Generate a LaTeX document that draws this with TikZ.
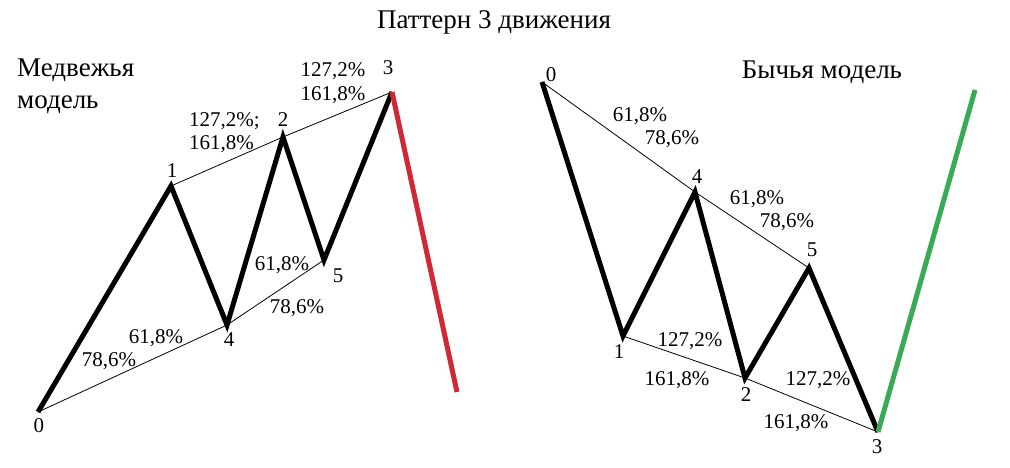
\documentclass[tikz,border=0pt]{standalone}
\usepackage{fontspec}
\setmainfont{Liberation Serif}
\definecolor{wred}{RGB}{208,40,52}
\definecolor{wgreen}{RGB}{58,170,85}
\begin{document}
\begin{tikzpicture}[x=1pt,y=-1pt,
  wave/.style={line width=5pt,line join=miter,black},
  guide/.style={line width=0.8pt,black},
  lbl/.style={inner sep=0pt,font=\fontsize{21}{25}\selectfont},
  head/.style={inner sep=0pt,font=\fontsize{27}{32}\selectfont},
  lblL/.style={lbl,anchor=west,align=left}]
\useasboundingbox (0,0) rectangle (1010,468);
% left (bearish) model
\coordinate (L0) at (38,412);
\coordinate (L1) at (171,186);
\coordinate (L4) at (227,325);
\coordinate (L2) at (283,137);
\coordinate (L5) at (324,260);
\coordinate (L3) at (392,92);
\coordinate (LE) at (457,392);
\draw[guide] (L0) -- (L4) -- (L5);
\draw[guide] (L1) -- (L2) -- (L3);
\draw[wave] (L0) -- (L1) -- (L4) -- (L2) -- (L5) -- (L3);
\draw[wave,wred] (L3) -- (LE);
% right (bullish) model
\coordinate (R0) at (542,82);
\coordinate (R1) at (623,336);
\coordinate (R4) at (695,192);
\coordinate (R2) at (745,378);
\coordinate (R5) at (809,268);
\coordinate (R3) at (878,432);
\coordinate (RE) at (975,90);
\draw[guide] (R0) -- (R4) -- (R5);
\draw[guide] (R1) -- (R2) -- (R3);
\draw[wave] (R0) -- (R1) -- (R4) -- (R2) -- (R5) -- (R3);
\draw[wave,wgreen] (R3) -- (RE);
% titles
\node[head] (title) at (494,22) {Паттерн 3 движения};
\node[head,anchor=west,align=left] (bear) at (17,86) {Медвежья\\модель};
\node[head] (bull) at (822,72) {Бычья модель};
% left labels
\node[lbl] (l0) at (39,426) {0};
\node[lbl] (l1) at (172,171) {1};
\node[lbl] (l2) at (283,120) {2};
\node[lbl] (l3) at (388,68) {3};
\node[lbl] (l4) at (229,340) {4};
\node[lbl] (l5) at (338,276) {5};
\node[lbl] (la) at (109,361) {78,6\%};
\node[lbl] (lb) at (156,338) {61,8\%};
\node[lbl] (lc) at (282,265) {61,8\%};
\node[lbl] (ld) at (297,308) {78,6\%};
\node[lblL] (le) at (189,121) {127,2\%;};
\node[lblL] (lf) at (189,144) {161,8\%};
\node[lbl] (lg) at (333,71) {127,2\%};
\node[lbl] (lh) at (333,95) {161,8\%};
% right labels
\node[lbl] (r0) at (551,75) {0};
\node[lbl] (r1) at (619,352) {1};
\node[lbl] (r2) at (746,395) {2};
\node[lbl] (r3) at (877,447) {3};
\node[lbl] (r4) at (697,177) {4};
\node[lbl] (r5) at (812,250) {5};
\node[lbl] (ra) at (640,116) {61,8\%};
\node[lbl] (rb) at (672,139) {78,6\%};
\node[lbl] (rc) at (757,199) {61,8\%};
\node[lbl] (rd) at (787,222) {78,6\%};
\node[lbl] (re) at (690,341) {127,2\%};
\node[lbl] (rf) at (677,380) {161,8\%};
\node[lbl] (rg) at (818,380) {127,2\%};
\node[lbl] (rh) at (796,423) {161,8\%};
\end{tikzpicture}
\end{document}
